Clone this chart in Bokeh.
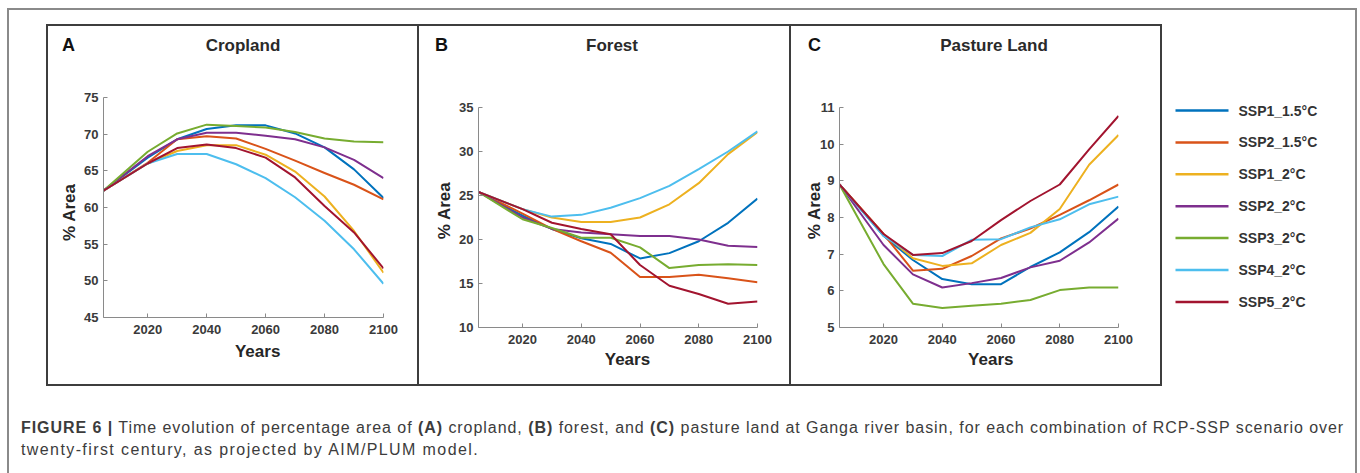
from bokeh.plotting import figure
from bokeh.models import Range1d, FixedTicker, Div
from bokeh.layouts import row, column
from bokeh.embed import file_html
from bokeh.resources import INLINE
from bokeh.core.properties import value

# ---------------- data ----------------
years = [2005, 2020, 2030, 2040, 2050, 2060, 2070, 2080, 2090, 2100]
x_ticks = [2020, 2040, 2060, 2080, 2100]
scenarios = ["SSP1_1.5°C", "SSP2_1.5°C", "SSP1_2°C", "SSP2_2°C", "SSP3_2°C", "SSP4_2°C", "SSP5_2°C"]
colors = ["#0072BD", "#D95319", "#EDB120", "#7E2F8E", "#77AC30", "#4DBEEE", "#A2142F"]

cropland_ssp1_15 = [62.3, 66.8, 69.3, 70.7, 71.2, 71.2, 70.1, 68.2, 65.2, 61.3]
cropland_ssp2_15 = [62.3, 66.1, 69.3, 69.7, 69.4, 68.0, 66.4, 64.7, 63.1, 61.1]
cropland_ssp1_2 = [62.3, 66.0, 67.7, 68.5, 68.5, 67.2, 64.9, 61.5, 56.8, 51.1]
cropland_ssp2_2 = [62.3, 67.0, 69.3, 70.2, 70.2, 69.8, 69.3, 68.2, 66.5, 64.0]
cropland_ssp3_2 = [62.3, 67.6, 70.1, 71.3, 71.1, 70.9, 70.3, 69.4, 69.0, 68.9]
cropland_ssp4_2 = [62.3, 66.0, 67.3, 67.3, 65.9, 64.0, 61.4, 58.2, 54.3, 49.6]
cropland_ssp5_2 = [62.3, 66.0, 68.1, 68.6, 68.1, 66.8, 64.1, 60.2, 56.6, 51.7]

forest_ssp1_15 = [25.4, 22.7, 21.2, 20.15, 19.5, 17.85, 18.45, 19.8, 21.9, 24.65]
forest_ssp2_15 = [25.4, 22.95, 21.2, 19.8, 18.5, 15.75, 15.75, 16.0, 15.6, 15.15]
forest_ssp1_2 = [25.4, 23.45, 22.5, 22.0, 22.0, 22.5, 24.0, 26.4, 29.7, 32.2]
forest_ssp2_2 = [25.4, 22.5, 21.2, 20.8, 20.6, 20.4, 20.4, 20.0, 19.3, 19.15]
forest_ssp3_2 = [25.4, 22.3, 21.3, 20.2, 20.2, 19.1, 16.75, 17.1, 17.2, 17.1]
forest_ssp4_2 = [25.4, 23.45, 22.6, 22.8, 23.6, 24.7, 26.1, 28.0, 30.0, 32.3]
forest_ssp5_2 = [25.4, 23.45, 21.9, 21.2, 20.6, 17.1, 14.75, 13.8, 12.7, 12.95]

pasture_ssp1_15 = [8.9, 7.5, 6.84, 6.32, 6.18, 6.18, 6.65, 7.05, 7.6, 8.3]
pasture_ssp2_15 = [8.9, 7.55, 6.55, 6.6, 6.95, 7.43, 7.7, 8.07, 8.47, 8.9]
pasture_ssp1_2 = [8.9, 7.55, 6.89, 6.68, 6.75, 7.25, 7.58, 8.23, 9.44, 10.25]
pasture_ssp2_2 = [8.9, 7.25, 6.45, 6.09, 6.21, 6.35, 6.64, 6.82, 7.32, 7.97]
pasture_ssp3_2 = [8.9, 6.73, 5.65, 5.53, 5.59, 5.65, 5.75, 6.02, 6.09, 6.09]
pasture_ssp4_2 = [8.9, 7.5, 6.98, 6.95, 7.39, 7.41, 7.73, 7.95, 8.36, 8.57]
pasture_ssp5_2 = [8.9, 7.55, 6.98, 7.03, 7.36, 7.93, 8.45, 8.9, 9.86, 10.77]

cropland = [cropland_ssp1_15, cropland_ssp2_15, cropland_ssp1_2, cropland_ssp2_2,
            cropland_ssp3_2, cropland_ssp4_2, cropland_ssp5_2]
forest = [forest_ssp1_15, forest_ssp2_15, forest_ssp1_2, forest_ssp2_2,
          forest_ssp3_2, forest_ssp4_2, forest_ssp5_2]
pasture = [pasture_ssp1_15, pasture_ssp2_15, pasture_ssp1_2, pasture_ssp2_2,
           pasture_ssp3_2, pasture_ssp4_2, pasture_ssp5_2]

cropland_yticks = [45, 50, 55, 60, 65, 70, 75]
forest_yticks = [10, 15, 20, 25, 30, 35]
pasture_yticks = [5, 6, 7, 8, 9, 10, 11]

panel_letters = ["A", "B", "C"]
panel_titles = ["Cropland", "Forest", "Pasture Land"]

caption_line1 = ("<b>FIGURE 6 |</b> Time evolution of percentage area of <b>(A)</b> cropland, "
                 "<b>(B)</b> forest, and <b>(C)</b> pasture land at Ganga river basin, for each "
                 "combination of RCP-SSP scenario over")
caption_line2 = "twenty-first century, as projected by AIM/PLUM model."

# ---------------- styling ----------------
FONT = "Liberation Sans"
W = 1360
TOP_H = 66
ROW_H = 318
BOT_H = 473 - TOP_H - ROW_H
OUTER = "#8a8a8a"
BOX = "#3d3d3d"
NB = "\u00a0"
PLOT_H = 308


def make_panel(series, yticks, w, bl, br, xlabel, ylabel, ylab_standoff, xlab_standoff):
    p = figure(width=w, height=PLOT_H, x_range=Range1d(2005, 2100),
               y_range=Range1d(yticks[0], yticks[-1]), title=None,
               output_backend="svg", toolbar_location=None,
               min_border_left=bl, min_border_right=br,
               min_border_top=31, min_border_bottom=57,
               outline_line_color=None, background_fill_color="white",
               border_fill_color="white")
    p.xgrid.visible = False
    p.ygrid.visible = False
    for vals, c in zip(series, colors):
        p.line(years, vals, line_color=c, line_width=2, line_join="round")

    for ax in (p.xaxis[0], p.yaxis[0]):
        ax.axis_line_color = OUTER
        ax.axis_line_width = 1
        ax.major_tick_line_color = OUTER
        ax.major_tick_in = 4
        ax.major_tick_out = 0
        ax.minor_tick_line_color = None
        ax.major_label_text_font = FONT
        ax.major_label_text_font_size = "13px"
        ax.major_label_text_font_style = "bold"
        ax.major_label_text_color = "#3a3a3a"
        ax.axis_label_text_font = FONT
        ax.axis_label_text_font_size = "17px"
        ax.axis_label_text_font_style = "bold"
        ax.axis_label_text_color = "#262626"
    p.xaxis[0].ticker = FixedTicker(ticks=x_ticks)
    p.yaxis[0].ticker = FixedTicker(ticks=yticks)
    p.xaxis[0].axis_label = xlabel
    p.yaxis[0].axis_label = ylabel
    p.xaxis[0].major_label_standoff = 7
    p.yaxis[0].major_label_standoff = 5
    p.xaxis[0].axis_label_standoff = xlab_standoff
    p.yaxis[0].axis_label_standoff = ylab_standoff
    return p


def spacer(w, h):
    return Div(text="", width=w, height=h, margin=0)


pA = make_panel(cropland, cropland_yticks, 369, 55, 34, NB * 6 + "Years", "% Area" + NB * 2, 2, 5)
pB = make_panel(forest, forest_yticks, 370, 59, 32, NB * 4 + "Years", NB * 3 + "% Area", 2, 3)
pC = make_panel(pasture, pasture_yticks, 369, 48, 42, NB * 5 + "Years", NB * 3 + "% Area", -7, 3)

colA = column(pA, spacer(369, 10), spacing=0)
colB = column(spacer(370, 10), pB, spacing=0)
colC = column(spacer(369, 10), pC, spacing=0)

# ---------------- legend ----------------
LEG_W = 193
leg = figure(width=LEG_W, height=ROW_H, x_range=Range1d(0, LEG_W), y_range=Range1d(ROW_H, 0),
             output_backend="svg", toolbar_location=None, min_border=0, title=None,
             x_axis_type=None, y_axis_type=None, outline_line_color=None,
             background_fill_color="white", border_fill_color="white")
leg.xgrid.visible = False
leg.ygrid.visible = False
leg_y = [44 + 31.9 * i for i in range(len(scenarios))]
leg.segment(x0=13, x1=66, y0=leg_y, y1=leg_y, line_color=colors, line_width=2.5)
leg.text(x=76, y=leg_y, text=scenarios, text_font=value(FONT), text_font_size=value("14px"),
         text_font_style="bold", text_color="#333333", text_baseline="middle", text_align="left")
leg_col = column(leg, spacing=0)


# ---------------- frame pieces (Divs) ----------------
def box(l, t, w, h, c):
    return (f'<div style="position:absolute;left:{l}px;top:{t}px;width:{w}px;'
            f'height:{h}px;background:{c};"></div>')


def wrap(w, h, inner):
    return f'<div style="position:relative;width:{w}px;height:{h}px;overflow:hidden;">{inner}</div>'


letter_left = [62, 435, 808]
title_center = [243, 612, 994]
hdr = ""
for lt, tt, lx, tc in zip(panel_letters, panel_titles, letter_left, title_center):
    hdr += (f'<div style="position:absolute;left:{lx}px;top:35px;font-family:\'{FONT}\';'
            f'font-size:18px;font-weight:bold;line-height:20px;color:#111;">{lt}</div>')
    hdr += (f'<div style="position:absolute;left:{tc - 100}px;width:200px;top:36px;text-align:center;'
            f'font-family:\'{FONT}\';font-size:17px;font-weight:bold;line-height:20px;'
            f'color:#2a2a2a;">{tt}</div>')

top_inner = (box(7, 8, 1350, 2, OUTER) + box(7, 8, 2, TOP_H, OUTER) + box(1355, 8, 2, TOP_H, OUTER)
             + box(46, 24, 1116, 2, BOX) + box(46, 24, 2, TOP_H, BOX)
             + box(417, 24, 2, TOP_H, BOX) + box(789, 24, 2, TOP_H, BOX) + box(1160, 24, 2, TOP_H, BOX)
             + hdr)
top_div = Div(text=wrap(W, TOP_H, top_inner), width=W, height=TOP_H, margin=0)

left_div = Div(text=wrap(48, ROW_H, box(7, 0, 2, ROW_H, OUTER) + box(46, 0, 2, ROW_H, BOX)),
               width=48, height=ROW_H, margin=0)
right_div = Div(text=wrap(5, ROW_H, box(0, 0, 2, ROW_H, OUTER)), width=5, height=ROW_H, margin=0)


def divider():
    return Div(text=wrap(2, ROW_H, box(0, 0, 2, ROW_H, BOX)), width=2, height=ROW_H, margin=0)


cap_style = (f"position:absolute;left:21px;top:33px;white-space:nowrap;font-family:'{FONT}';"
             "font-size:16px;line-height:22px;letter-spacing:0.95px;color:#3c3c3c;")
bot_inner = (box(7, 0, 2, BOT_H, OUTER) + box(1355, 0, 2, BOT_H, OUTER) + box(46, 0, 1116, 2, BOX)
             + f'<div style="{cap_style}">{caption_line1}<br>'
               f'<span style="letter-spacing:1.4px;">{caption_line2}</span></div>')
bot_div = Div(text=wrap(W, BOT_H, bot_inner), width=W, height=BOT_H, margin=0)

mid = row(left_div, colA, divider(), colB, divider(), colC, divider(), leg_col, right_div, spacing=0)
layout = column(top_div, mid, bot_div, spacing=0)

open("out.html", "w").write(file_html(layout, INLINE))
